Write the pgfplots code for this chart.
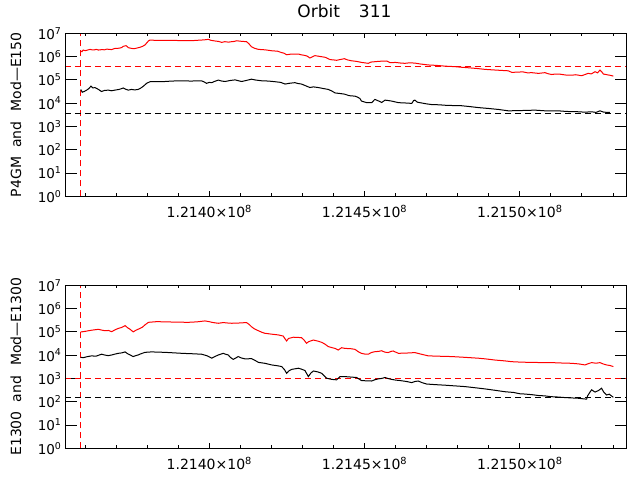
\documentclass[border=0pt]{standalone}
\usepackage{pgfplots}
\usepackage{pgfplotstable}
\pgfplotsset{compat=1.18}
\usepackage{fontspec}
\setmainfont{DejaVu Sans}

\pgfplotstableread{
x y
5.86 1.74e6
5.90 1.62e6
5.94 1.91e6
6.00 1.80e6
6.05 1.86e6
6.16 2.04e6
6.22 1.95e6
6.30 1.95e6
6.36 2.04e6
6.43 1.91e6
6.55 2.00e6
6.62 1.95e6
6.70 2.09e6
6.78 2.04e6
6.85 2.00e6
6.96 2.24e6
7.10 2.29e6
7.18 2.45e6
7.23 2.75e6
7.32 2.95e6
7.40 2.40e6
7.50 2.24e6
7.58 2.19e6
7.65 2.29e6
7.77 2.51e6
7.85 2.75e6
7.93 3.16e6
8.04 4.68e6
8.09 5.13e6
8.30 4.95e6
8.57 5.01e6
8.80 4.95e6
9.00 4.90e6
9.20 4.90e6
9.43 4.79e6
9.55 4.95e6
9.75 5.13e6
9.85 5.25e6
9.97 5.50e6
10.05 5.01e6
10.18 4.68e6
10.30 4.47e6
10.40 4.07e6
10.50 4.37e6
10.62 4.17e6
10.72 4.37e6
10.80 4.47e6
10.88 4.79e6
11.00 4.57e6
11.20 4.37e6
11.28 3.50e6
11.36 2.63e6
11.45 2.29e6
11.58 2.04e6
11.80 1.95e6
12.01 1.78e6
12.20 1.70e6
12.33 1.48e6
12.40 1.41e6
12.49 1.20e6
12.60 1.26e6
12.70 1.29e6
12.87 1.29e6
12.95 1.20e6
13.08 1.12e6
13.15 1.05e6
13.24 8.71e5
13.30 9.50e5
13.40 1.10e6
13.55 1.02e6
13.73 9.33e5
13.80 8.50e5
13.89 7.41e5
14.00 7.20e5
14.10 6.92e5
14.20 7.40e5
14.35 8.13e5
14.45 7.20e5
14.58 6.61e5
14.75 6.20e5
14.90 5.62e5
15.00 5.40e5
15.12 5.13e5
15.20 5.80e5
15.33 6.03e5
15.50 6.30e5
15.71 6.46e5
15.82 5.50e5
16.00 5.60e5
16.15 5.30e5
16.30 5.13e5
16.45 5.40e5
16.62 5.25e5
16.80 4.80e5
17.05 4.37e5
17.30 4.20e5
17.59 3.89e5
17.90 3.70e5
18.10 3.50e5
18.34 3.31e5
18.60 3.10e5
18.88 2.82e5
19.10 2.70e5
19.40 2.55e5
19.63 2.45e5
19.74 2.09e5
19.90 2.15e5
20.10 2.20e5
20.25 2.00e5
20.38 2.04e5
20.60 1.90e5
20.81 2.04e5
20.90 1.85e5
21.02 1.70e5
21.15 1.78e5
21.30 1.75e5
21.50 1.60e5
21.67 1.58e5
21.80 1.66e5
21.99 1.51e5
22.10 1.70e5
22.20 1.91e5
22.30 1.80e5
22.42 2.24e5
22.50 2.00e5
22.58 2.63e5
22.64 2.20e5
22.69 1.78e5
22.77 1.70e5
22.85 1.62e5
22.93 1.55e5
23.01 1.45e5
}\redtop

\pgfplotstableread{
x y
5.86 3.89e4
5.91 2.95e4
5.98 3.20e4
6.05 3.63e4
6.12 4.20e4
6.19 5.37e4
6.25 4.50e4
6.32 4.68e4
6.43 3.89e4
6.53 3.16e4
6.62 3.50e4
6.75 3.63e4
6.85 3.40e4
6.96 3.63e4
7.10 3.90e4
7.23 4.47e4
7.30 4.00e4
7.39 3.63e4
7.50 3.89e4
7.60 3.70e4
7.71 3.89e4
7.80 4.50e4
7.88 5.37e4
7.98 7.08e4
8.09 8.32e4
8.30 8.50e4
8.57 8.51e4
8.80 8.90e4
9.11 9.12e4
9.40 8.90e4
9.75 9.12e4
9.85 8.00e4
9.91 7.08e4
10.00 7.80e4
10.08 7.59e4
10.18 8.70e4
10.29 9.77e4
10.40 8.90e4
10.51 8.51e4
10.65 9.30e4
10.83 1.00e5
10.95 9.10e4
11.04 8.51e4
11.20 9.50e4
11.36 1.07e5
11.50 9.80e4
11.69 9.12e4
11.90 8.90e4
12.12 8.32e4
12.30 7.80e4
12.44 6.61e4
12.60 7.20e4
12.76 7.59e4
12.85 7.00e4
12.97 6.61e4
13.10 5.60e4
13.24 4.68e4
13.35 5.00e4
13.51 4.68e4
13.65 4.30e4
13.83 3.89e4
13.95 3.30e4
14.05 2.75e4
14.20 2.60e4
14.35 2.45e4
14.50 2.10e4
14.69 2.00e4
14.78 1.80e4
14.85 1.58e4
14.90 1.23e4
15.07 1.05e4
15.23 1.05e4
15.33 1.45e4
15.44 1.26e4
15.55 1.07e4
15.66 1.35e4
15.75 1.30e4
15.87 1.23e4
16.09 1.05e4
16.30 1.02e4
16.52 9.77e3
16.58 1.30e4
16.62 1.35e4
16.70 1.10e4
16.78 1.05e4
17.00 9.30e3
17.16 8.71e3
17.40 8.50e3
17.59 8.13e3
17.85 7.90e3
18.12 7.76e3
18.40 7.10e3
18.66 6.46e3
19.00 5.90e3
19.31 5.37e3
19.63 4.68e3
20.00 4.80e3
20.49 5.01e3
20.80 4.70e3
21.24 4.68e3
21.50 4.40e3
21.88 4.27e3
22.10 4.10e3
22.31 4.27e3
22.45 4.00e3
22.58 4.68e3
22.70 4.10e3
22.90 3.98e3
}\blacktop

\pgfplotstableread{
x y
5.86 1.02e5
5.89 1.00e5
6.00 1.05e5
6.11 1.12e5
6.25 1.20e5
6.43 1.29e5
6.55 1.18e5
6.64 1.12e5
6.75 1.15e5
6.86 1.02e5
6.95 1.20e5
7.07 1.41e5
7.18 1.55e5
7.29 1.86e5
7.37 1.50e5
7.45 1.29e5
7.55 1.00e5
7.65 1.20e5
7.77 1.41e5
7.85 1.60e5
7.93 2.00e5
8.04 2.57e5
8.31 2.75e5
8.57 2.69e5
8.90 2.63e5
9.32 2.57e5
9.60 2.69e5
9.86 2.95e5
10.00 2.75e5
10.08 2.57e5
10.18 2.45e5
10.29 2.34e5
10.45 2.51e5
10.60 2.40e5
10.72 2.34e5
10.95 2.40e5
11.20 2.51e5
11.28 2.10e5
11.36 1.66e5
11.45 1.35e5
11.58 1.12e5
11.70 9.50e4
11.79 8.71e4
12.00 8.00e4
12.22 7.41e4
12.38 6.61e4
12.44 5.00e4
12.49 4.07e4
12.55 5.20e4
12.71 5.89e4
12.85 5.80e4
12.97 5.62e4
13.05 4.50e4
13.13 3.24e4
13.20 3.80e4
13.35 4.47e4
13.50 4.00e4
13.62 3.55e4
13.72 3.00e4
13.83 2.34e4
13.95 2.10e4
14.05 1.95e4
14.15 1.66e4
14.26 2.09e4
14.37 1.95e4
14.55 1.90e4
14.69 1.78e4
14.80 1.40e4
14.90 1.20e4
15.00 1.12e4
15.12 1.10e4
15.22 1.30e4
15.33 1.41e4
15.45 1.45e4
15.55 1.55e4
15.65 1.35e4
15.76 1.29e4
15.85 1.45e4
15.92 1.51e4
16.00 1.35e4
16.09 1.20e4
16.35 1.23e4
16.62 1.29e4
16.80 1.12e4
17.05 9.33e3
17.40 9.00e3
17.80 8.71e3
18.20 8.10e3
18.66 7.41e3
18.90 6.90e3
19.20 6.17e3
19.50 5.70e3
19.74 5.25e3
20.05 5.00e3
20.38 4.90e3
20.70 4.80e3
21.02 4.79e3
21.35 4.60e3
21.67 4.47e3
21.90 4.20e3
22.10 3.80e3
22.20 4.30e3
22.31 4.79e3
22.45 4.50e3
22.58 4.79e3
22.68 4.20e3
22.79 3.80e3
22.90 3.60e3
23.01 3.24e3
}\redbot

\pgfplotstableread{
x y
5.86 8.13e3
5.94 7.76e3
6.05 8.50e3
6.21 9.33e3
6.35 9.00e3
6.53 1.10e4
6.65 1.00e4
6.75 9.55e3
6.86 1.02e4
6.95 1.10e4
7.07 1.20e4
7.18 1.25e4
7.29 1.38e4
7.37 1.15e4
7.45 1.02e4
7.55 8.71e3
7.63 9.50e3
7.71 1.02e4
7.80 1.15e4
7.93 1.32e4
8.14 1.38e4
8.57 1.32e4
8.85 1.26e4
9.11 1.20e4
9.45 1.15e4
9.75 1.10e4
9.92 9.50e3
10.08 7.41e3
10.18 8.70e3
10.29 1.02e4
10.45 1.20e4
10.52 1.10e4
10.61 1.02e4
10.68 8.00e3
10.77 6.61e3
10.85 7.50e3
10.93 8.71e3
11.03 7.60e3
11.15 6.92e3
11.36 7.08e3
11.47 6.00e3
11.58 4.90e3
11.79 4.47e3
12.01 3.80e3
12.20 3.50e3
12.33 3.24e3
12.42 2.40e3
12.49 1.66e3
12.56 2.10e3
12.65 2.45e3
12.87 2.75e3
12.97 2.50e3
13.08 2.19e3
13.19 1.20e3
13.27 1.70e3
13.35 2.09e3
13.50 1.90e3
13.62 1.66e3
13.70 1.30e3
13.78 1.02e3
13.94 9.12e2
14.10 8.71e2
14.21 1.20e3
14.37 1.20e3
14.55 1.15e3
14.74 1.10e3
14.82 9.50e2
14.90 8.13e2
15.05 7.90e2
15.23 7.76e2
15.33 8.80e2
15.44 9.55e2
15.55 1.00e3
15.66 1.10e3
15.77 9.80e2
15.87 9.12e2
16.00 8.50e2
16.14 8.13e2
16.35 7.40e2
16.52 6.61e2
16.62 7.40e2
16.73 7.76e2
16.85 6.60e2
17.00 5.75e2
17.30 5.40e2
17.59 5.13e2
17.90 4.80e2
18.23 4.47e2
18.55 4.00e2
18.88 3.55e2
19.20 3.10e2
19.52 2.69e2
19.80 2.50e2
20.00 2.20e2
20.16 2.14e2
20.40 2.00e2
20.60 1.85e2
20.81 1.78e2
21.00 1.65e2
21.20 1.60e2
21.45 1.51e2
21.70 1.45e2
21.88 1.41e2
22.00 1.35e2
22.15 1.29e2
22.18 1.78e2
22.25 2.50e2
22.31 3.24e2
22.42 2.60e2
22.53 3.02e2
22.63 3.80e2
22.70 2.60e2
22.79 1.95e2
22.88 2.10e2
22.95 1.78e2
23.01 1.55e2
}\blackbot

\begin{document}
\begin{tikzpicture}
\path[use as bounding box] (0,0) rectangle (637pt,480pt);

% ---------- top panel: data and y ticks ----------
\begin{axis}[at={(65pt,283.7pt)}, anchor=south west,
    scale only axis, width=561.7pt, height=163pt,
    xmin=5.354, xmax=23.44,
    ymode=log, ymin=1, ymax=1e7,
    axis line style={line width=0.9pt},
    tick align=inside, ytick pos=both,
    xtick=\empty, xminorticks=false,
    ytick={1,10,100,1000,10000,100000,1000000,10000000},
    yticklabels={10\textsuperscript{0},10\textsuperscript{1},10\textsuperscript{2},10\textsuperscript{3},10\textsuperscript{4},10\textsuperscript{5},10\textsuperscript{6},10\textsuperscript{7}},
    yminorticks=false,
    major tick length=12pt,
    tick style={black, line width=1pt},
    yticklabel style={font=\fontsize{13.5}{15}\selectfont},
    ylabel style={at={(axis description cs:-0.0872,0.5)}, rotate=0, anchor=center, font=\fontsize{14}{16}\selectfont},
    ylabel={P4GM\hspace{9pt}and\hspace{10pt}Mod—E150},
    title={Orbit\hspace{19pt}311},
    title style={at={(axis description cs:0.4975,1)}, anchor=center, yshift=16pt, font=\fontsize{17}{20}\selectfont}]
\addplot[red, line width=1pt, dash pattern=on 6pt off 4pt] coordinates {(5.86,1) (5.86,1e7)};
\addplot[red, line width=1pt, dash pattern=on 6pt off 4pt] coordinates {(5.354,3.9e5) (23.44,3.9e5)};
\addplot[black, line width=1pt, dash pattern=on 6pt off 4pt] coordinates {(5.354,3.7e3) (23.44,3.7e3)};
\addplot[red, line width=1pt] table[x=x,y=y] {\redtop};
\addplot[black, line width=1pt] table[x=x,y=y] {\blacktop};
\end{axis}
% ---------- top panel: x ticks ----------
\begin{axis}[at={(65pt,283.7pt)}, anchor=south west,
    scale only axis, width=561.7pt, height=163pt,
    xmin=5.354, xmax=23.44,
    ymode=log, ymin=1, ymax=1e7,
    axis line style={line width=0.9pt},
    tick align=inside, xtick pos=both,
    ytick=\empty, yminorticks=false,
    xtick={10,15,20},
    xticklabels={1.2140×10\textsuperscript{8},1.2145×10\textsuperscript{8},1.2150×10\textsuperscript{8}},
    minor xtick={6,7,8,9,11,12,13,14,16,17,18,19,21,22,23},
    major tick length=5pt, minor tick length=3pt,
    tick style={black, line width=1pt},
    xticklabel style={anchor=base, yshift=-21.5pt, font=\fontsize{14}{16}\selectfont}]
\end{axis}

% ---------- bottom panel: data and y ticks ----------
\begin{axis}[at={(65pt,31.7pt)}, anchor=south west,
    scale only axis, width=561.7pt, height=163pt,
    xmin=5.354, xmax=23.44,
    ymode=log, ymin=1, ymax=1e7,
    axis line style={line width=0.9pt},
    tick align=inside, ytick pos=both,
    xtick=\empty, xminorticks=false,
    ytick={1,10,100,1000,10000,100000,1000000,10000000},
    yticklabels={10\textsuperscript{0},10\textsuperscript{1},10\textsuperscript{2},10\textsuperscript{3},10\textsuperscript{4},10\textsuperscript{5},10\textsuperscript{6},10\textsuperscript{7}},
    yminorticks=false,
    major tick length=12pt,
    tick style={black, line width=1pt},
    yticklabel style={font=\fontsize{13.5}{15}\selectfont},
    ylabel style={at={(axis description cs:-0.0872,0.5)}, rotate=0, anchor=center, font=\fontsize{14}{16}\selectfont},
    ylabel={E1300\hspace{9pt}and\hspace{10pt}Mod—E1300}]
\addplot[red, line width=1pt, dash pattern=on 6pt off 4pt] coordinates {(5.86,1) (5.86,1e7)};
\addplot[red, line width=1pt, dash pattern=on 6pt off 4pt] coordinates {(5.354,1.02e3) (23.44,1.02e3)};
\addplot[black, line width=1pt, dash pattern=on 6pt off 4pt] coordinates {(5.354,155) (23.44,155)};
\addplot[red, line width=1pt] table[x=x,y=y] {\redbot};
\addplot[black, line width=1pt] table[x=x,y=y] {\blackbot};
\end{axis}
% ---------- bottom panel: x ticks ----------
\begin{axis}[at={(65pt,31.7pt)}, anchor=south west,
    scale only axis, width=561.7pt, height=163pt,
    xmin=5.354, xmax=23.44,
    ymode=log, ymin=1, ymax=1e7,
    axis line style={line width=0.9pt},
    tick align=inside, xtick pos=both,
    ytick=\empty, yminorticks=false,
    xtick={10,15,20},
    xticklabels={1.2140×10\textsuperscript{8},1.2145×10\textsuperscript{8},1.2150×10\textsuperscript{8}},
    minor xtick={6,7,8,9,11,12,13,14,16,17,18,19,21,22,23},
    major tick length=5pt, minor tick length=3pt,
    tick style={black, line width=1pt},
    xticklabel style={anchor=base, yshift=-21.5pt, font=\fontsize{14}{16}\selectfont}]
\end{axis}
\end{tikzpicture}
\end{document}
